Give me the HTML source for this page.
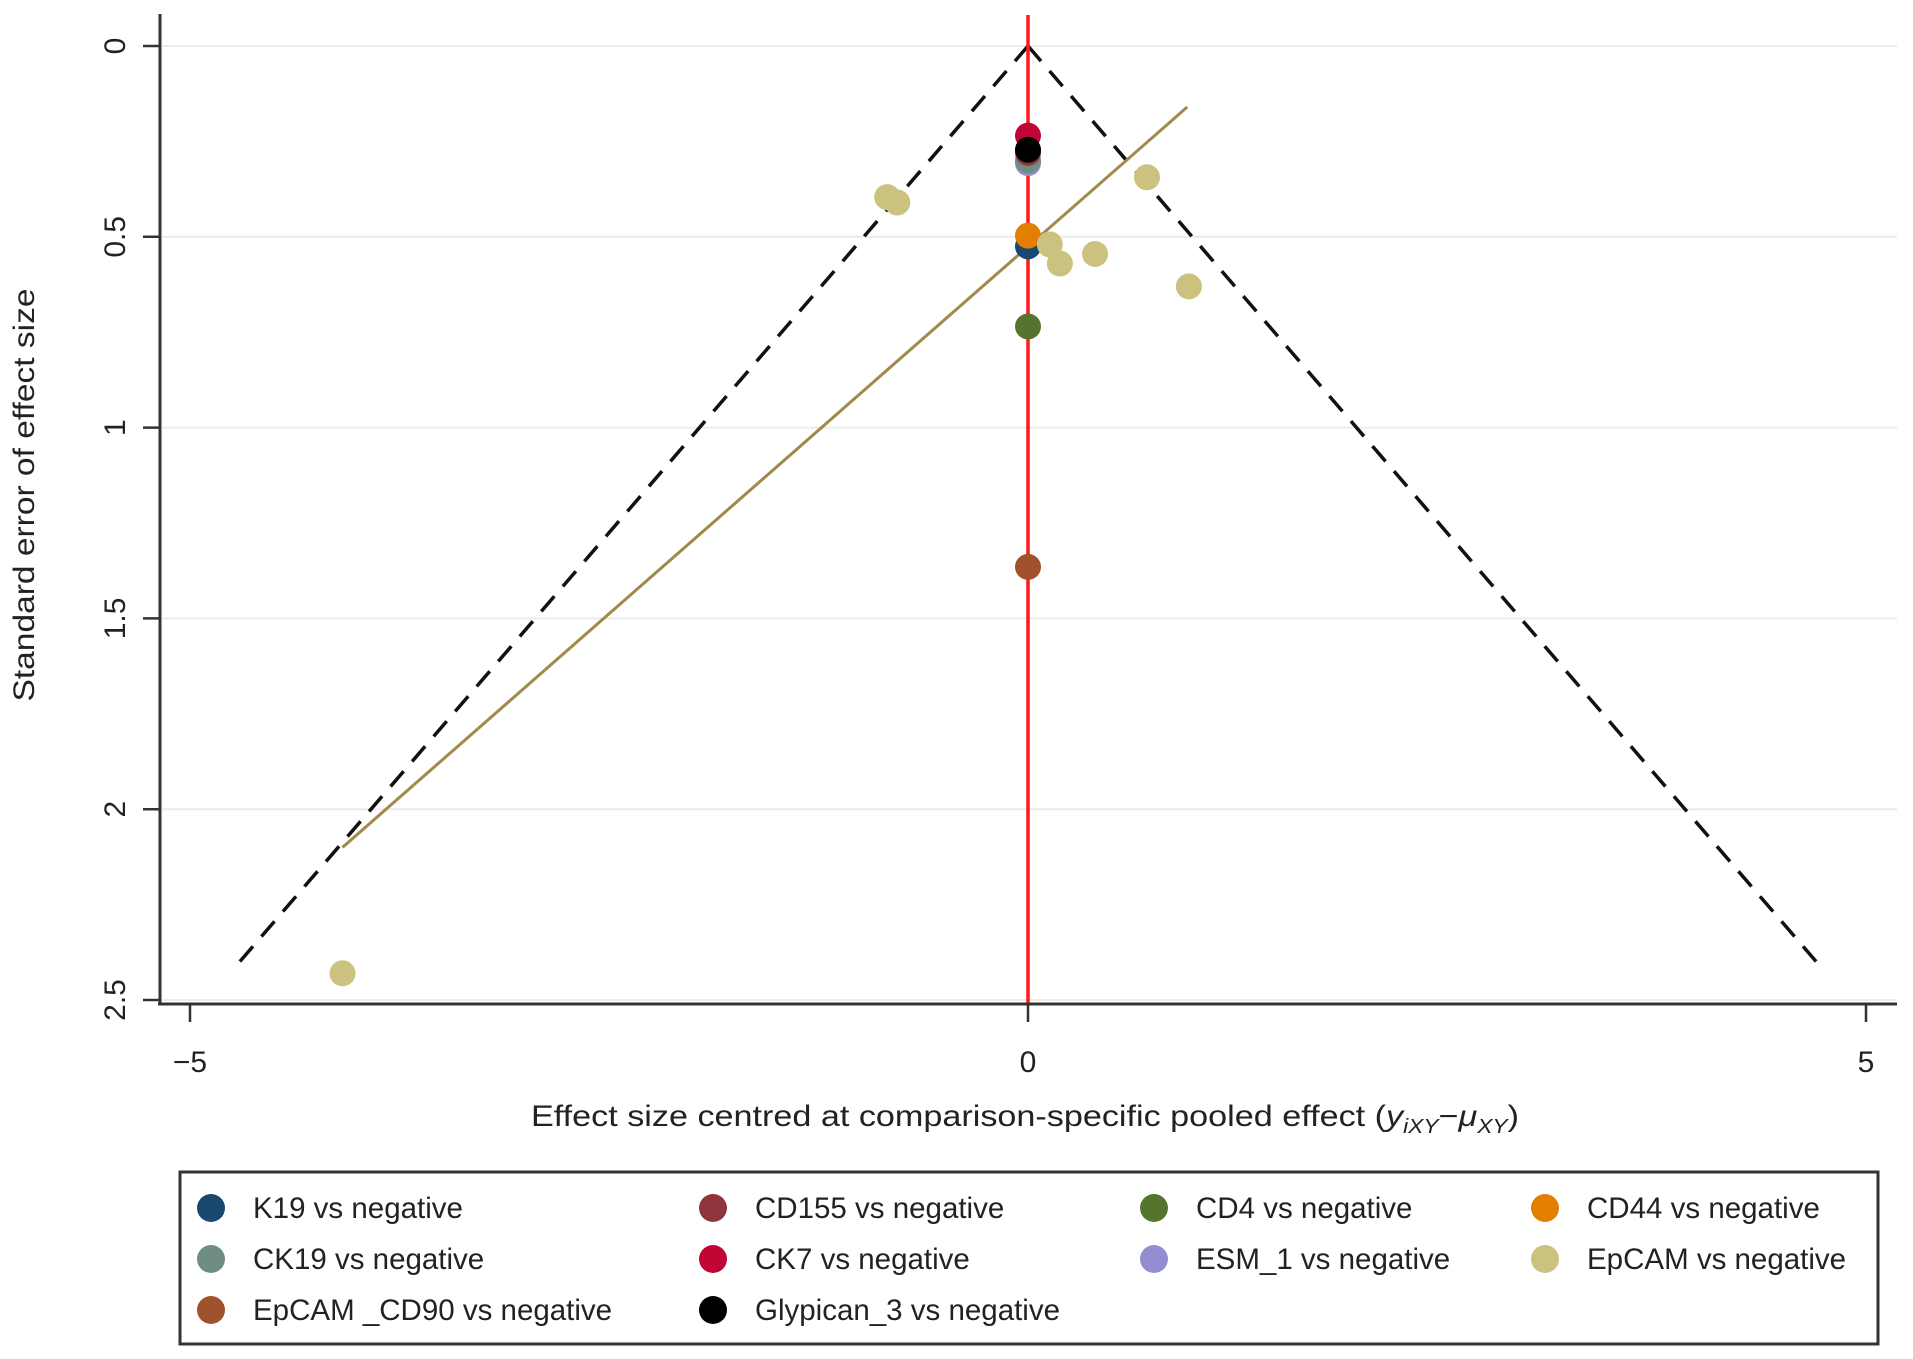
<!DOCTYPE html>
<html><head><meta charset="utf-8">
<style>
html,body{margin:0;padding:0;background:#fff;}
svg{display:block;font-family:"Liberation Sans",Arial,sans-serif;}
</style></head>
<body>
<svg id="chart" width="1913" height="1359" viewBox="0 0 1913 1359" xmlns="http://www.w3.org/2000/svg">
<rect width="1913" height="1359" fill="#fff"/>
<g id="grid"></g>
<g id="funnel"></g>
<g id="marks"></g>
<g id="axes"></g>
<text x="0" y="0" transform="translate(34,495) rotate(-90)" text-anchor="middle" font-size="30" fill="#222" textLength="413" lengthAdjust="spacingAndGlyphs">Standard error of effect size</text>
<text x="531" y="1126" font-size="30" fill="#222" textLength="988" lengthAdjust="spacingAndGlyphs">Effect size centred at comparison-specific pooled effect (<tspan font-style="italic">y</tspan><tspan font-style="italic" font-size="20" dy="7">iXY</tspan><tspan dy="-7">−</tspan><tspan font-style="italic">μ</tspan><tspan font-style="italic" font-size="20" dy="7">XY</tspan><tspan dy="-7">)</tspan></text>
<rect x="180" y="1172" width="1698" height="172" fill="none" stroke="#333" stroke-width="3"/>
<g id="legend"></g>
</svg>
<script>
const xTicks = [-5, 0, 5];
const yTicks = [0, 0.5, 1, 1.5, 2, 2.5];
const seriesNames = ["K19 vs negative","CD155 vs negative","CD4 vs negative","CD44 vs negative","CK19 vs negative","CK7 vs negative","ESM_1 vs negative","EpCAM vs negative","EpCAM _CD90 vs negative","Glypican_3 vs negative"];
const seriesColors = ["#1a476f","#90353b","#55752f","#e37e00","#6e8e84","#c10534","#938dd2","#cac27e","#a0522d","#000000"];
// points: effect (x), standard error (y), series index
const ptSeries = [6,4,0,1,3,7,7,7,7,7,7,7,7,2,8,5,9];
const ptX = [0,0,0,0,0,-4.09,-0.84,-0.78,0.71,0.13,0.19,0.40,0.96,0,0,0,0];
const ptY = [0.307,0.30,0.525,0.28,0.497,2.43,0.396,0.41,0.344,0.52,0.57,0.545,0.63,0.735,1.365,0.235,0.272];
const funnelSE = [0, 2.41];
const regX = [-4.09, 0.95];
const regY = [2.10, 0.16];

const NS = "http://www.w3.org/2000/svg";
const xs = v => 1028 + v * 167.6;
const ys = v => 46 + v * 381.6;
function mk(tag, attrs, parent){const e=document.createElementNS(NS,tag);for(const k in attrs)e.setAttribute(k,attrs[k]);parent.appendChild(e);return e;}
const grid=document.getElementById('grid'), funnel=document.getElementById('funnel'), marks=document.getElementById('marks'), axes=document.getElementById('axes'), legend=document.getElementById('legend');

yTicks.forEach(t=>{
  const g=mk('line',{x1:162,x2:1897,y1:ys(t),y2:ys(t),stroke:'#ececec','stroke-width':2},grid);
  
  
});
[-1,1].forEach(s=>{
  const l=mk('line',{x1:xs(0),y1:ys(funnelSE[0]),x2:xs(s*1.96*funnelSE[1]),y2:ys(funnelSE[1]),stroke:'#111','stroke-width':3.5,'stroke-dasharray':'20 13'},funnel);
  
  
});
const rl=mk('line',{x1:xs(regX[0]),y1:ys(regY[0]),x2:xs(regX[1]),y2:ys(regY[1]),stroke:'#a08a4a','stroke-width':3},funnel);


const red=mk('line',{x1:xs(0),y1:15,x2:xs(0),y2:1004,stroke:'#ff1a1a','stroke-width':3.5},funnel);



ptX.forEach((x,i)=>{
  const c=mk('circle',{cx:xs(x),cy:ys(ptY[i]),r:13,fill:seriesColors[ptSeries[i]]},marks);
  
  
});

const yax=mk('line',{x1:160,y1:14,x2:160,y2:1004,stroke:'#333','stroke-width':3},axes);


const xax=mk('line',{x1:158,y1:1004,x2:1897,y2:1004,stroke:'#333','stroke-width':3},axes);


yTicks.forEach(t=>{
  mk('line',{x1:143,x2:160,y1:ys(t),y2:ys(t),stroke:'#333','stroke-width':2.5},axes);
  const tx=mk('text',{x:0,y:0,transform:`translate(125,${ys(t)}) rotate(-90)`,'text-anchor':'middle','font-size':30,fill:'#222'},axes);
  tx.textContent=String(t);
  
  
});
xTicks.forEach(t=>{
  mk('line',{x1:xs(t),x2:xs(t),y1:1004,y2:1022,stroke:'#333','stroke-width':2.5},axes);
  const tx=mk('text',{x:xs(t),y:1072,'text-anchor':'middle','font-size':30,fill:'#222'},axes);
  tx.textContent=t<0?'\u2212'+Math.abs(t):String(t);
  
  
});

const colMx=[211,713,1154,1545], rowY=[1208,1259,1310];
seriesNames.forEach((n,i)=>{
  const col=i%4,row=Math.floor(i/4);
  const g=mk('g',{},legend);
  
  
  mk('circle',{cx:colMx[col],cy:rowY[row],r:14,fill:seriesColors[i]},g);
  const t=mk('text',{x:colMx[col]+42,y:rowY[row]+10,'font-size':29.5,fill:'#222'},g);
  t.textContent=n;
});
</script>
</body></html>
